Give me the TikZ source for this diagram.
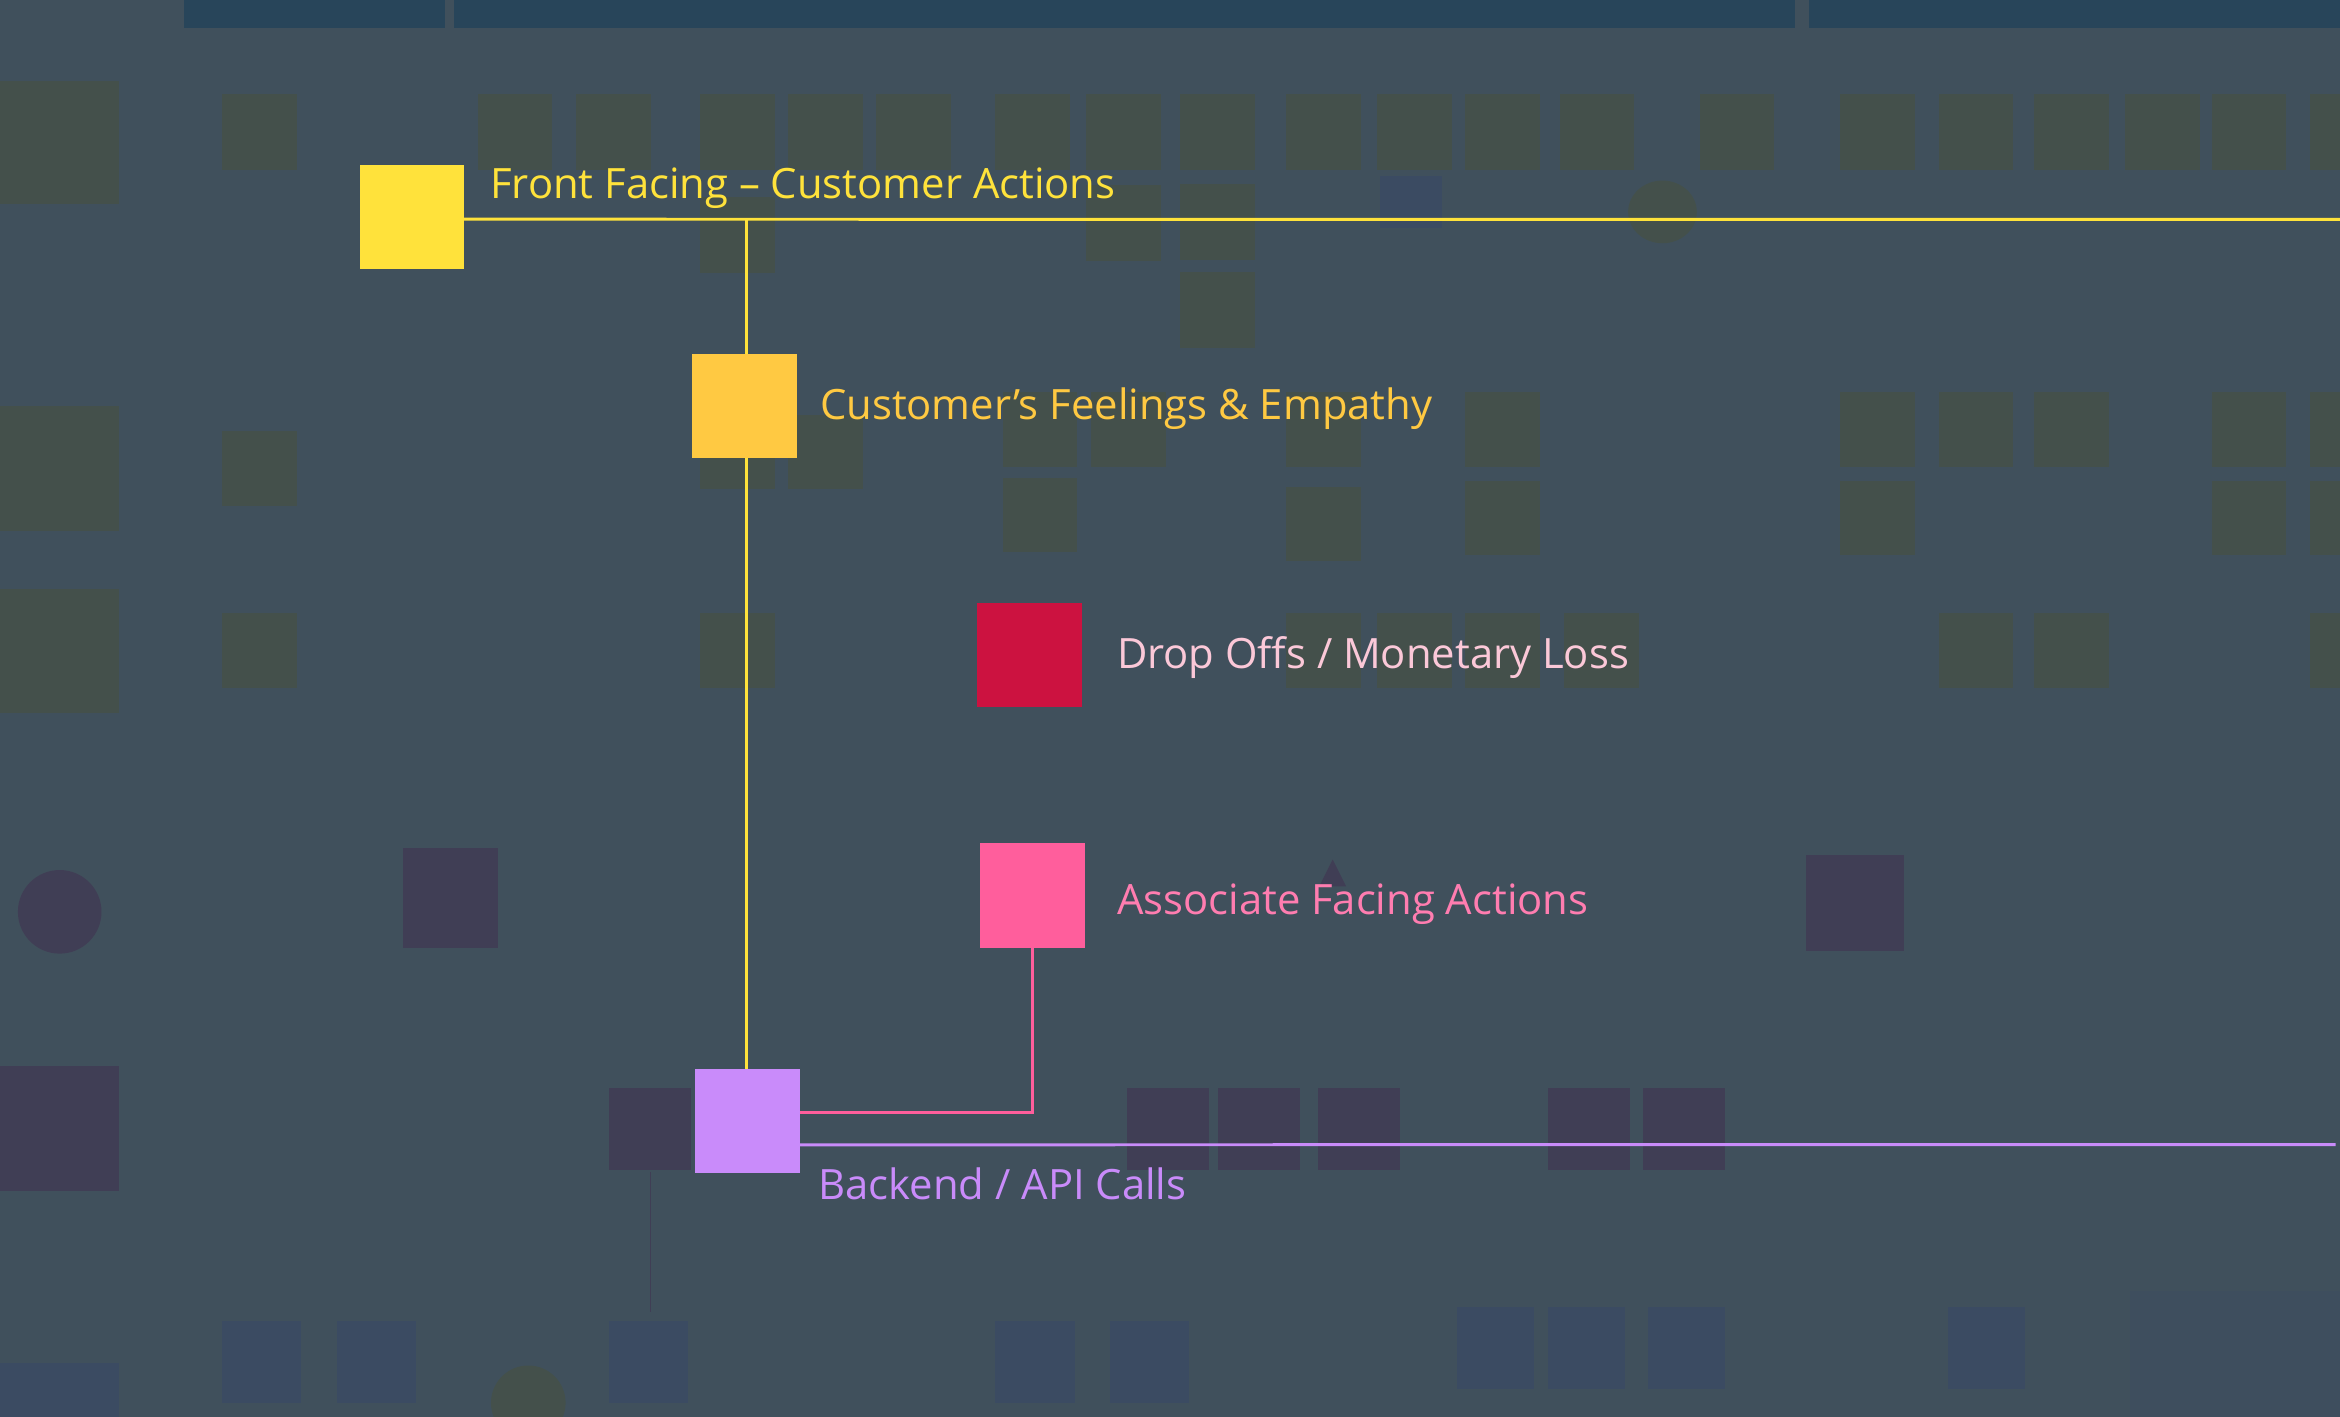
\documentclass[tikz,border=0pt]{standalone}
\usepackage{fontspec}
\setmainfont{Open Sans}
\usetikzlibrary{calc,positioning}

\definecolor{slate}{HTML}{40505C}
\definecolor{headband}{HTML}{28455A}
\definecolor{cardgreen}{HTML}{44504B}
\definecolor{cardpurple}{HTML}{403E55}
\definecolor{cardblue}{HTML}{3B4B62}
\definecolor{frontyellow}{HTML}{FFE23B}
\definecolor{feelyellow}{HTML}{FFC942}
\definecolor{dropred}{HTML}{CC1240}
\definecolor{droptext}{HTML}{FBC8D8}
\definecolor{assocpink}{HTML}{FF5E9C}
\definecolor{assoctext}{HTML}{FF7DB0}
\definecolor{apipurple}{HTML}{C98BFA}

\pgfdeclarelayer{back}
\pgfdeclarelayer{lines}
\pgfsetlayers{back,lines,main}

\tikzset{every picture/.style={line width=0.75pt}}

\begin{document}
\begin{tikzpicture}[x=0.75pt,y=0.75pt,yscale=-1,xscale=1,
  key/.style={draw=none, minimum size=52.5pt, inner sep=0pt, outer sep=0pt},
  lbl/.style={anchor=base west, inner sep=0pt, font=\fontsize{21}{25}\selectfont},
  linkline/.style={line width=1.5pt}]
\useasboundingbox (0,0) rectangle (1568,949);

%Shape: Square
\node[key, fill=frontyellow] (front) at (276,145.5) {};
\node[key, fill=feelyellow] (feel) at (499,272) {};
\node[key, fill=dropred] (drop) at (690,439) {};
\node[key, fill=assocpink] (assoc) at (692,600) {};
\node[key, fill=apipurple] (api) at (501,751) {};

% Text Node
\node[lbl, text=frontyellow] (frontlbl) at (328,133) {Front Facing – Customer Actions};
% Text Node
\node[lbl, text=feelyellow] (feellbl) at (549,281) {Customer’s Feelings \& Empathy};
% Text Node
\node[lbl, text=droptext] (droplbl) at (748,448) {Drop Offs / Monetary Loss};
% Text Node
\node[lbl, text=assoctext] (assoclbl) at (748,613) {Associate Facing Actions};
% Text Node
\node[lbl, text=apipurple] (apilbl) at (548,804) {Backend / API Calls};

\begin{pgfonlayer}{lines}
\coordinate (frontend) at (1568,147);
\coordinate (frontjoin) at (500,147);
\coordinate (apiend) at (1565,767);
%Straight Lines
\draw[linkline, frontyellow] ($(front.north east)!0.52!(front.south east)$) -- (frontend);
%Straight Lines
\draw[linkline, frontyellow] (frontjoin) -- (frontjoin |- api.north);
%Straight Lines
\draw[linkline, assocpink] (assoc.south) |- ($(api.north east)!0.42!(api.south east)$);
%Straight Lines
\draw[linkline, apipurple] ($(api.north east)!0.73!(api.south east)$) -- (apiend);
\end{pgfonlayer}

\begin{pgfonlayer}{back}
\fill[slate] (-5,-5) rectangle (1573,955);
% header band
\fill[headband] (123,-5) rectangle (298,19);
\fill[headband] (304,-5) rectangle (1203,19);
\fill[headband] (1212,-5) rectangle (1573,19);
% row labels
\fill[cardgreen] (-5,54) rectangle (80,137);
\fill[cardgreen] (-5,272) rectangle (80,356);
\fill[cardgreen] (-5,395) rectangle (80,478);
\fill[cardpurple] (-5,714) rectangle (80,798);
\fill[cardblue] (-5,913) rectangle (80,955);
% green cards
\foreach \x in {149,320,386,469,528,587,667,728,791,862,923,982,1045,1139,1233,1299,1363,1424,1482,1548}
  \fill[cardgreen] (\x,63) rectangle ++(50,51);
\foreach \x/\y in {469/132,728/124,791/123,791/182}
  \fill[cardgreen] (\x,\y) rectangle ++(50,51);
\foreach \x/\y in {149/289,469/278,528/278,672/263,731/263,862/263,982/263,1233/263,1299/263,1363/263,1482/263,1548/263,672/320,862/326,982/322,1233/322,1482/322,1548/322}
  \fill[cardgreen] (\x,\y) rectangle ++(50,50);
\foreach \x in {149,469,862,923,982,1048,1299,1363,1548}
  \fill[cardgreen] (\x,411) rectangle ++(50,50);
\fill[cardgreen] (1114,142) ellipse [x radius=23, y radius=21];
\fill[cardgreen] (354,940) circle [radius=25];
\fill[cardblue] (925,118) rectangle ++(41,35);
% purple cards
\fill[cardpurple] (40,611) circle [radius=28];
\fill[cardpurple] (270,568) rectangle ++(64,67);
\fill[cardpurple] (1210,573) rectangle ++(66,64);
\fill[cardpurple] (893,576) -- (884,594) -- (902,594) -- cycle;
\foreach \x in {408,755,816,883,1037,1101}
  \fill[cardpurple] (\x,729) rectangle ++(55,55);
\draw[cardpurple] (436,785) -- (436,879);
% blue cards
\foreach \x in {149,226,408,667,744}
  \fill[cardblue] (\x,885) rectangle ++(53,55);
\foreach \x in {976,1037,1104,1305}
  \fill[cardblue] (\x,876) rectangle ++(52,55);
\fill[cardblue, opacity=0.35] (1427,865) rectangle (1573,955);
\end{pgfonlayer}

\end{tikzpicture}
\end{document}
